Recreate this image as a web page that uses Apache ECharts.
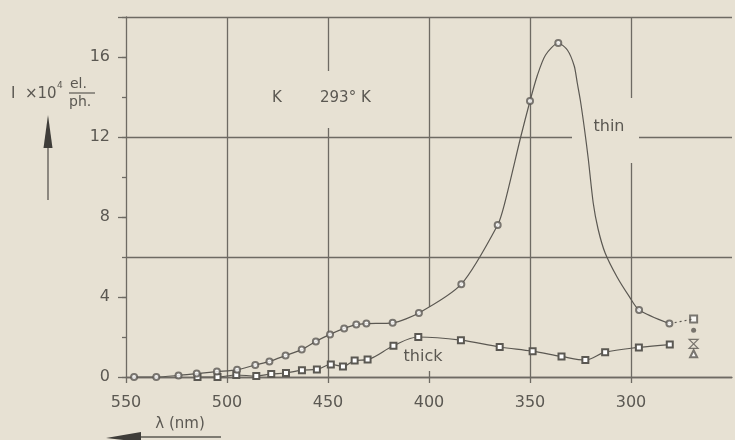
<!DOCTYPE html>
<html>
<head>
<meta charset="utf-8">
<script src="https://cdn.jsdelivr.net/npm/echarts@6/dist/echarts.min.js"></script>
<style>
  html, body { margin: 0; padding: 0; background: #e7e1d3; }
  #chart { width: 735px; height: 440px; }
</style>
</head>
<body>
<div id="chart"></div>
<script>
// wavelength (nm), photoyield (x10^4 el./ph.)
const thinPoints = [
  [546, 0.0], [535, 0.0], [524, 0.08], [515, 0.17], [505, 0.27], [495, 0.36],
  [486, 0.6], [479, 0.78], [471, 1.07], [463, 1.37], [456, 1.78], [449, 2.13],
  [442, 2.43], [436, 2.62], [431, 2.67], [418, 2.71], [405, 3.2], [384, 4.64],
  [366, 7.6], [350, 13.8], [336, 16.7], [296, 3.35], [281, 2.67]
]
// extra readings along the drawn thin curve (no marker)
const thinCurveReads = [
  [362.5, 8.7], [354.6, 12.0], [346.3, 15.1], [342.3, 16.1], [331.5, 16.35],
  [328.1, 15.55], [326.6, 14.7], [325.1, 13.85], [323.1, 12.45], [321.2, 10.95],
  [318.7, 8.7], [316.3, 7.4], [312.8, 6.2], [306.9, 5.0], [300.9, 4.03]
]
const thickPoints = [
  [514.6, 0.0], [504.7, 0.0], [495.4, 0.1], [485.5, 0.05], [478.1, 0.15],
  [470.8, 0.2], [462.9, 0.34], [455.5, 0.38], [448.6, 0.63], [442.6, 0.53],
  [436.8, 0.82], [430.4, 0.87], [417.6, 1.56], [405.3, 2.0], [384.2, 1.84],
  [365, 1.5], [348.7, 1.29], [334.4, 1.03], [322.6, 0.85], [312.8, 1.24],
  [296.1, 1.48], [280.8, 1.62]
]
const extraSquare = [[269, 2.9]]
const extraDot = [[269, 2.34]]
const extraCross = [[269, 1.66]]
const extraTriangle = [[269, 1.16]]
const dottedLink = [[280.8, 2.67], [269, 2.9]]

const xTicks = [550, 500, 450, 400, 350, 300]
const yTickLabels = [0, 4, 8, 12, 16]

const paper = '#e7e1d3'
const ink = '#5b5852'
const lineInk = '#6e6a63'
const font = 'DejaVu Sans'

const thinCurve = thinPoints.concat(thinCurveReads).sort((a, b) => b[0] - a[0])

const chart = echarts.init(document.getElementById('chart'))

const hiddenY = {
  type: 'value', min: 0, max: 18, position: 'left',
  axisLine: { show: false }, axisTick: { show: false },
  axisLabel: { show: false }, splitLine: { show: false }
}

const option = {
  backgroundColor: paper,
  animation: false,
  grid: { left: 126, right: 0, top: 17, bottom: 63 },
  xAxis: {
    type: 'value',
    min: 250,
    max: 550,
    interval: 50,
    inverse: true,
    axisLine: { lineStyle: { color: lineInk, width: 1.3 } },
    axisTick: { length: 6, customValues: xTicks, lineStyle: { color: lineInk, width: 1.3 } },
    axisLabel: {
      margin: 18, color: ink, fontFamily: font, fontSize: 16,
      formatter: v => (xTicks.includes(v) ? String(v) : '')
    },
    splitLine: { show: true, showMinLine: false, lineStyle: { color: lineInk, width: 1.3 } }
  },
  yAxis: [
    // minor ticks every 2 + axis line
    Object.assign({}, hiddenY, {
      interval: 2,
      axisLine: { show: true, lineStyle: { color: lineInk, width: 1.3 } },
      axisTick: { show: true, length: 4, lineStyle: { color: lineInk, width: 1.3 } }
    }),
    // labelled ticks every 4
    Object.assign({}, hiddenY, {
      interval: 4,
      axisTick: { show: true, length: 8, lineStyle: { color: lineInk, width: 1.3 } },
      axisLabel: {
        show: true, margin: 16, color: ink, fontFamily: font, fontSize: 16,
        formatter: v => (yTickLabels.includes(v) ? String(v) : '')
      }
    }),
    // graph paper lines every 6
    Object.assign({}, hiddenY, {
      interval: 6,
      splitLine: { show: true, lineStyle: { color: lineInk, width: 1.3 } }
    })
  ],
  series: [
    {
      type: 'line', data: thinCurve, smooth: 0.25, showSymbol: false,
      lineStyle: { color: ink, width: 1.2 }, z: 3
    },
    {
      type: 'scatter', data: thinPoints, symbol: 'emptyCircle', symbolSize: 6,
      itemStyle: { color: ink, borderColor: ink, borderWidth: 1.1 }, z: 4
    },
    {
      type: 'line', data: thickPoints, smooth: 0.35, symbol: 'emptyRect', symbolSize: 6,
      lineStyle: { color: ink, width: 1.2 },
      itemStyle: { color: ink, borderColor: ink, borderWidth: 1.1 }, z: 3
    },
    {
      type: 'line', data: dottedLink, showSymbol: false,
      lineStyle: { color: ink, width: 1.2, type: [2, 3] }
    },
    {
      type: 'scatter', data: extraSquare, symbol: 'emptyRect', symbolSize: 7,
      itemStyle: { color: ink, borderColor: ink, borderWidth: 1.3 }
    },
    {
      type: 'scatter', data: extraDot, symbol: 'circle', symbolSize: 5,
      itemStyle: { color: ink }
    },
    {
      type: 'scatter', data: extraCross, symbolSize: 9,
      symbol: 'path://M0,0 L10,0 L0,12 L10,12 Z',
      itemStyle: { color: 'rgba(0,0,0,0)', borderColor: ink, borderWidth: 1.2 }
    },
    {
      type: 'scatter', data: extraTriangle, symbol: 'emptyTriangle', symbolSize: 7,
      itemStyle: { color: ink, borderColor: ink, borderWidth: 1.2 }
    }
  ],
  graphic: [
    // gaps in the graph paper behind labels
    { type: 'rect', z: 1, shape: { x: 266, y: 71, width: 120, height: 57 }, style: { fill: paper } },
    { type: 'rect', z: 1, shape: { x: 572, y: 98, width: 67, height: 65 }, style: { fill: paper } },
    { type: 'rect', z: 1, shape: { x: 398, y: 307, width: 50, height: 64 }, style: { fill: paper } },
    { type: 'text', z: 5, x: 277, y: 98, style: { text: 'K', font: '15px "DejaVu Sans"', fill: ink, textAlign: 'center', textVerticalAlign: 'middle' } },
    { type: 'text', z: 5, x: 320, y: 98, style: { text: '293° K', font: '15px "DejaVu Sans"', fill: ink, textAlign: 'left', textVerticalAlign: 'middle' } },
    { type: 'text', z: 5, x: 609, y: 127, style: { text: 'thin', font: '16px "DejaVu Sans"', fill: ink, textAlign: 'center', textVerticalAlign: 'middle' } },
    { type: 'text', z: 5, x: 423, y: 357, style: { text: 'thick', font: '16px "DejaVu Sans"', fill: ink, textAlign: 'center', textVerticalAlign: 'middle' } },
    // y axis title
    { type: 'text', x: 11, y: 94, style: { text: 'I', font: '15px "DejaVu Sans"', fill: ink, textVerticalAlign: 'middle' } },
    { type: 'text', x: 25, y: 94, style: { text: '×10', font: '15px "DejaVu Sans"', fill: ink, textVerticalAlign: 'middle' } },
    { type: 'text', x: 57, y: 86, style: { text: '4', font: '9px "DejaVu Sans"', fill: ink, textVerticalAlign: 'middle' } },
    { type: 'text', x: 70, y: 84, style: { text: 'el.', font: '14px "DejaVu Sans"', fill: ink, textVerticalAlign: 'middle' } },
    { type: 'line', shape: { x1: 69, y1: 93, x2: 95, y2: 93 }, style: { stroke: ink, lineWidth: 1.2 } },
    { type: 'text', x: 69, y: 102, style: { text: 'ph.', font: '14px "DejaVu Sans"', fill: ink, textVerticalAlign: 'middle' } },
    { type: 'line', shape: { x1: 48, y1: 200, x2: 48, y2: 140 }, style: { stroke: ink, lineWidth: 1.3 } },
    { type: 'polygon', shape: { points: [[48, 115], [43.5, 148], [52.5, 148]] }, style: { fill: '#3f3d39' } },
    // x axis title
    { type: 'text', x: 180, y: 424, style: { text: 'λ (nm)', font: '15px "DejaVu Sans"', fill: ink, textAlign: 'center', textVerticalAlign: 'middle' } },
    { type: 'line', shape: { x1: 130, y1: 437, x2: 221, y2: 437 }, style: { stroke: ink, lineWidth: 1.3 } },
    { type: 'polygon', shape: { points: [[106, 438], [141, 432], [141, 442]] }, style: { fill: '#3f3d39' } }
  ]
}

chart.setOption(option)
</script>
</body>
</html>
